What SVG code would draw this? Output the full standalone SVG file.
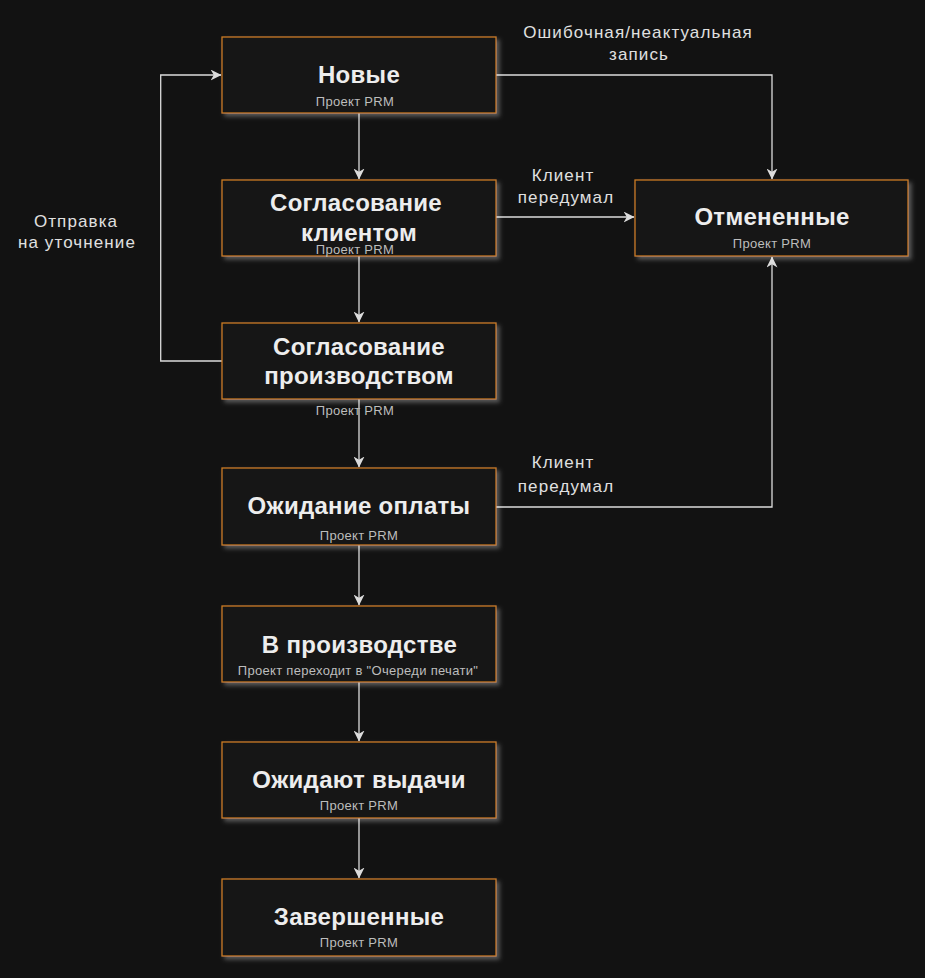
<svg xmlns="http://www.w3.org/2000/svg" width="925" height="978" viewBox="0 0 925 978">
<style>
.box{fill:#121212;stroke:#cc7b20;stroke-width:1.3;filter:url(#sh)}
.t{font-family:"Liberation Sans",Arial,sans-serif;font-weight:bold;font-size:24px;letter-spacing:0.3px;fill:#ededed;text-anchor:middle}
.s{font-family:"Liberation Sans",Arial,sans-serif;font-size:13px;letter-spacing:0.3px;fill:#bdbdbd;text-anchor:middle}
.l{font-family:"Liberation Sans",Arial,sans-serif;font-size:17px;letter-spacing:1.1px;fill:#e0e0e0;text-anchor:middle}
.c{fill:none;stroke:#dcdcdc;stroke-width:1.3;marker-end:url(#a)}
</style>
<defs>
<filter id="sh" x="-10%" y="-20%" width="125%" height="150%">
<feFlood flood-color="#ffffff" flood-opacity="0.3"/>
<feComposite operator="in" in2="SourceAlpha"/>
<feGaussianBlur stdDeviation="2"/>
<feOffset dx="3" dy="3"/>
<feMerge><feMergeNode/><feMergeNode in="SourceGraphic"/></feMerge>
</filter>
<marker id="a" viewBox="0 0 11 11" refX="10.5" refY="5.5" markerWidth="11" markerHeight="11" markerUnits="userSpaceOnUse" orient="auto">
<path d="M0,0 L11,5.5 L0,11 L3.3,5.5 Z" fill="#dcdcdc"/>
</marker>
</defs>
<rect width="925" height="978" fill="#121212"/>
<g id="connectors">
<path class="c" d="M359,113 V179"/>
<path class="c" d="M359,256 V322"/>
<path class="c" d="M359,399 V467"/>
<path class="c" d="M359,545 V605"/>
<path class="c" d="M359,682 V741"/>
<path class="c" d="M359,818 V878"/>
<path class="c" d="M496,75 H772 V179"/>
<path class="c" d="M496,217 H634"/>
<path class="c" d="M496,507 H772 V257"/>
<path class="c" d="M222,361 H160.7 V75 H221"/>
<text class="l" x="638" y="38">Ошибочная/неактуальная</text>
<text class="l" x="639" y="59.5">запись</text>
<text class="l" x="563" y="181">Клиент</text>
<text class="l" x="566" y="203">передумал</text>
<text class="l" x="563" y="468">Клиент</text>
<text class="l" x="566" y="492">передумал</text>
<text class="l" x="76" y="227">Отправка</text>
<text class="l" x="77" y="248">на уточнение</text>
</g>
<g id="n1"><rect class="box" x="222" y="37" width="274" height="76"/><text class="t" x="359" y="83">Новые</text><text class="s" x="355" y="105.5">Проект PRM</text></g>
<g id="n2"><rect class="box" x="222" y="180" width="274" height="76"/><text class="t" x="356" y="211">Согласование</text><text class="t" x="359" y="240.5">клиентом</text><text class="s" x="355" y="253.5">Проект PRM</text></g>
<g id="n3"><rect class="box" x="222" y="323" width="274" height="76"/><text class="t" x="359" y="355">Согласование</text><text class="t" x="359" y="383.5">производством</text><text class="s" x="355" y="415">Проект PRM</text></g>
<g id="n4"><rect class="box" x="222" y="468" width="274" height="77"/><text class="t" x="359" y="514">Ожидание оплаты</text><text class="s" x="359" y="540">Проект PRM</text></g>
<g id="n5"><rect class="box" x="222" y="606" width="274" height="76"/><text class="t" x="359.5" y="653">В производстве</text><text class="s" x="358" y="675">Проект переходит в "Очереди печати"</text></g>
<g id="n6"><rect class="box" x="222" y="742" width="274" height="76"/><text class="t" x="359" y="788">Ожидают выдачи</text><text class="s" x="359" y="810">Проект PRM</text></g>
<g id="n7"><rect class="box" x="222" y="879" width="274" height="77"/><text class="t" x="359" y="925">Завершенные</text><text class="s" x="359" y="947">Проект PRM</text></g>
<g id="n8"><rect class="box" x="635" y="180" width="273" height="76"/><text class="t" x="772" y="224.5">Отмененные</text><text class="s" x="772" y="248">Проект PRM</text></g>
</svg>
